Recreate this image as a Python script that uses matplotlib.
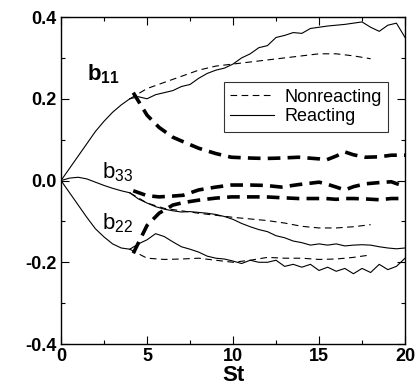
import matplotlib.pyplot as plt
from matplotlib.ticker import MultipleLocator

plt.rcParams["font.family"] = ["Liberation Sans", "DejaVu Sans"]
plt.rcParams["mathtext.fontset"] = "custom"
plt.rcParams["mathtext.rm"] = "Liberation Sans"
plt.rcParams["mathtext.bf"] = "Liberation Sans:bold"
plt.rcParams["mathtext.it"] = "Liberation Sans:italic"

# initial shared part (all cases) up to St ~ 4
st_init = [0, 0.5, 1, 1.5, 2, 2.5, 3, 3.5, 4]
b11_init = [0, 0.03, 0.06, 0.09, 0.12, 0.145, 0.167, 0.185, 0.2]
b22_init = [0, -0.03, -0.06, -0.09, -0.118, -0.138, -0.155, -0.165, -0.168]
b33_init = [0, 0.006, 0.008, 0.004, -0.004, -0.012, -0.019, -0.025, -0.03]

# nonreacting (thin dashed)
st_nr = [4, 5, 6, 7, 8, 9, 10, 11, 12, 13, 14, 15, 16, 17, 18]
b11_nr = [0.2, 0.225, 0.24, 0.255, 0.27, 0.28, 0.285, 0.29, 0.295, 0.3, 0.305, 0.31, 0.31, 0.305, 0.298]
b22_nr = [-0.168, -0.19, -0.193, -0.192, -0.19, -0.195, -0.2, -0.195, -0.188, -0.19, -0.19, -0.193, -0.192, -0.188, -0.182]
b33_nr = [-0.03, -0.055, -0.068, -0.074, -0.08, -0.085, -0.09, -0.094, -0.098, -0.104, -0.112, -0.116, -0.116, -0.113, -0.108]

# reacting (thin solid, noisy)
st_r = [4, 4.5, 5, 5.5, 6, 6.5, 7, 7.5, 8, 8.5, 9, 9.5, 10, 10.5, 11, 11.5, 12,
        12.5, 13, 13.5, 14, 14.5, 15, 15.5, 16, 16.5, 17, 17.5, 18, 18.5, 19, 19.5, 20]
b11_r = [0.2, 0.205, 0.2, 0.21, 0.215, 0.22, 0.23, 0.235, 0.25, 0.262, 0.27, 0.275, 0.285, 0.3,
         0.31, 0.325, 0.33, 0.35, 0.355, 0.362, 0.36, 0.372, 0.375, 0.378, 0.38, 0.382, 0.385,
         0.388, 0.375, 0.365, 0.38, 0.385, 0.35]
b22_r = [-0.168, -0.155, -0.145, -0.13, -0.137, -0.15, -0.162, -0.168, -0.175, -0.185, -0.19,
         -0.192, -0.197, -0.203, -0.195, -0.2, -0.2, -0.195, -0.21, -0.205, -0.212, -0.205,
         -0.22, -0.212, -0.222, -0.215, -0.228, -0.215, -0.225, -0.205, -0.218, -0.21, -0.19]
b33_r = [-0.03, -0.045, -0.055, -0.064, -0.07, -0.074, -0.077, -0.076, -0.078, -0.08, -0.083,
         -0.088, -0.095, -0.105, -0.113, -0.12, -0.125, -0.135, -0.14, -0.148, -0.152, -0.158,
         -0.155, -0.158, -0.155, -0.16, -0.158, -0.157, -0.158, -0.162, -0.165, -0.167, -0.165]

# thick dashed (third case, starting at St ~ 4)
st_t = [4.2, 5, 5.7, 6.5, 7.1, 8, 9, 9.9, 11, 11.9, 12.8, 13.8, 15, 15.4, 16, 16.5, 17, 17.7, 18.5, 19.2, 20]
b11_t = [0.215, 0.16, 0.13, 0.106, 0.095, 0.079, 0.066, 0.057, 0.055, 0.054, 0.055, 0.057, 0.053,
         0.05, 0.06, 0.07, 0.063, 0.057, 0.058, 0.062, 0.062]
b22_t = [-0.178, -0.11, -0.08, -0.06, -0.054, -0.048, -0.043, -0.04, -0.04, -0.04, -0.042, -0.044,
         -0.044, -0.044, -0.046, -0.044, -0.044, -0.045, -0.047, -0.044, -0.044]
b33_t = [-0.025, -0.037, -0.04, -0.038, -0.036, -0.023, -0.016, -0.011, -0.011, -0.012, -0.016,
         -0.01, -0.004, -0.008, -0.016, -0.023, -0.015, -0.008, -0.005, -0.003, -0.015]

fig = plt.figure(figsize=(4.15, 3.87), dpi=100)
ax = fig.add_axes([0.147, 0.111, 0.829, 0.845])

thin = dict(color="black", lw=0.8)
for b in (b11_init, b22_init, b33_init):
    ax.plot(st_init, b, **thin)

for b in (b11_nr, b22_nr, b33_nr):
    ax.plot(st_nr, b, ls=(0, (6, 4)), **thin)
for b in (b11_r, b22_r, b33_r):
    ax.plot(st_r, b, ls="-", **thin)
for b in (b11_t, b22_t, b33_t):
    ax.plot(st_t, b, color="black", lw=2.6, ls=(0, (3.5, 2)))

# legend proxies
ax.plot([], [], ls=(0, (6, 4)), label="Nonreacting", **thin)
ax.plot([], [], ls="-", label="Reacting", **thin)
leg = ax.legend(loc="upper left", bbox_to_anchor=(0.474, 0.80), frameon=True, fancybox=False,
                edgecolor="black", fontsize=13, handlelength=2.4, borderpad=0.35,
                labelspacing=0.15, handletextpad=0.6, borderaxespad=0)
leg.get_frame().set_linewidth(0.8)

ax.text(1.5, 0.245, r"$\mathbf{b}_{\mathbf{11}}$", fontsize=16)
ax.text(2.4, 0.005, r"$\mathrm{b}_{33}$", fontsize=16)
ax.text(2.4, -0.12, r"$\mathrm{b}_{22}$", fontsize=16)

ax.set_xlim(0, 20)
ax.set_ylim(-0.4, 0.4)
ax.xaxis.set_major_locator(MultipleLocator(5))
ax.xaxis.set_minor_locator(MultipleLocator(2.5))
ax.yaxis.set_minor_locator(MultipleLocator(0.1))
ax.set_yticks([-0.4, -0.2, 0.0, 0.2, 0.4])
ax.set_yticklabels(["-0.4", "-0.2", "0.0", "0.2", "0.4"])
ax.tick_params(which="both", direction="in", top=True, right=True, labelsize=13, width=0.8)
ax.tick_params(which="major", length=6)
ax.tick_params(which="minor", length=3)
ax.tick_params(axis="x", pad=3)
for lab in ax.get_xticklabels() + ax.get_yticklabels():
    lab.set_fontweight("bold")
for sp in ax.spines.values():
    sp.set_linewidth(1.0)
ax.set_xlabel("St", fontsize=16, fontweight="bold", labelpad=0)

fig.savefig("out.png", dpi=100)
